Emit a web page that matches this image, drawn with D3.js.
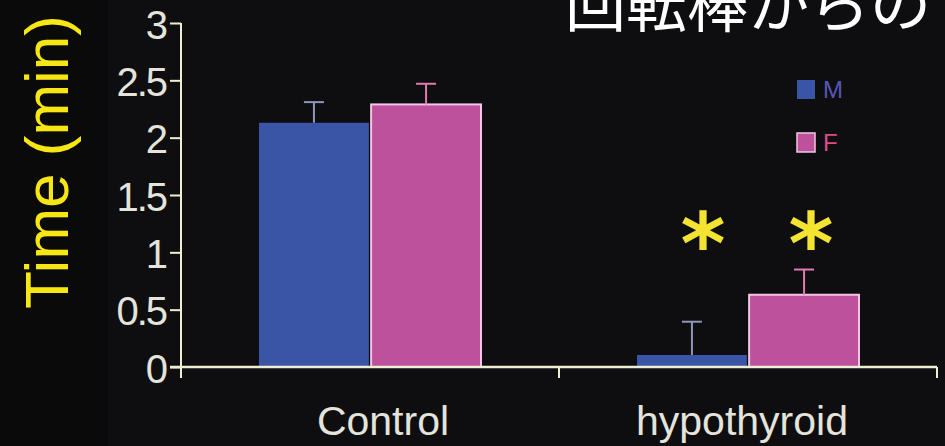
<!DOCTYPE html>
<html>
<head>
<meta charset="utf-8">
<script src="https://cdn.jsdelivr.net/npm/d3@7"></script>
<style>
  html, body { margin: 0; padding: 0; background: #0a0a0a; }
  svg { display: block; }
</style>
</head>
<body>
<svg id="chart" width="945" height="446"></svg>
<script>
// Rotarod fall latency by group and sex
const groups = ["Control", "hypothyroid"];
const sexes = ["M", "F"];
const meanM = [2.13, 0.105];
const meanF = [2.29, 0.63];
const errM = [0.18, 0.29];
const errF = [0.18, 0.22];
const significant = [false, true];
const yTicks = [0, 0.5, 1, 1.5, 2, 2.5, 3];
const titleText = "回転棒からの";
const yLabel = "Time (min)";

const svg = d3.select("#chart");
const W = 945, H = 446;

svg.append("rect").attr("width", W).attr("height", H).attr("fill", "#0a0a0a");
svg.append("rect").attr("x", 108).attr("y", 0).attr("width", W - 108).attr("height", H).attr("fill", "#0e0e10");

const x0 = 181, x1 = 937, yTop = 23, yBase = 367;
const y = d3.scaleLinear().domain([0, 3]).range([yBase, yTop]);
const xBand = d3.scaleBand().domain(groups).range([x0, x1]);
const xSex = d3.scaleBand().domain(sexes).range([0, 222]).paddingInner(0.02);

const fillColor = { M: "#3a55a6", F: "#be519b" };
const strokeColor = { M: "none", F: "#f2c6e4" };
const errColor = { M: "#8f96b8", F: "#e07ab0" };
const axisColor = "#eeeed2";
const textColor = "#e4e4dc";

const rows = [];
groups.forEach((g, i) => {
  rows.push({ g, s: "M", v: meanM[i], e: errM[i], sig: significant[i] });
  rows.push({ g, s: "F", v: meanF[i], e: errF[i], sig: significant[i] });
});
const barX = d => xBand(d.g) + (xBand.bandwidth() - 222) / 2 + xSex(d.s);

// bars
svg.selectAll("rect.bar").data(rows).join("rect")
  .attr("class", "bar")
  .attr("x", barX)
  .attr("y", d => y(d.v))
  .attr("width", xSex.bandwidth())
  .attr("height", d => y(0) - y(d.v))
  .attr("fill", d => fillColor[d.s])
  .attr("stroke", d => strokeColor[d.s])
  .attr("stroke-width", 2);

// error bars (upper half)
const eb = svg.selectAll("g.err").data(rows).join("g").attr("class", "err")
  .attr("stroke", d => errColor[d.s]).attr("stroke-width", 2);
eb.append("line")
  .attr("x1", d => barX(d) + xSex.bandwidth() / 2)
  .attr("x2", d => barX(d) + xSex.bandwidth() / 2)
  .attr("y1", d => y(d.v))
  .attr("y2", d => y(d.v + d.e));
eb.append("line")
  .attr("x1", d => barX(d) + xSex.bandwidth() / 2 - 10)
  .attr("x2", d => barX(d) + xSex.bandwidth() / 2 + 10)
  .attr("y1", d => y(d.v + d.e))
  .attr("y2", d => y(d.v + d.e));

// significance marks
svg.selectAll("text.sig").data(rows.filter(d => d.sig)).join("text")
  .attr("class", "sig")
  .attr("x", d => barX(d) + xSex.bandwidth() / 2 + (d.s === "M" ? 11 : 7))
  .attr("y", 274)
  .attr("text-anchor", "middle")
  .attr("font-family", "DejaVu Sans, sans-serif")
  .attr("font-weight", "bold")
  .attr("font-size", 86)
  .attr("fill", "#f2e430")
  .text("*");

// y axis
const yAxis = d3.axisLeft(y).tickValues(yTicks).tickSize(11).tickPadding(4)
  .tickFormat(d => String(d));
const gy = svg.append("g").attr("transform", `translate(${x0},0)`).call(yAxis);
gy.select(".domain").remove();
gy.selectAll(".tick line").attr("stroke", axisColor).attr("stroke-width", 2);
gy.selectAll(".tick text")
  .attr("fill", textColor)
  .attr("font-family", "Liberation Sans, Arial, sans-serif")
  .attr("font-size", 40)
  .attr("dy", "0.38em")
  .attr("letter-spacing", -2);
svg.append("line").attr("x1", x0).attr("x2", x0).attr("y1", yTop).attr("y2", yBase + 11)
  .attr("stroke", axisColor).attr("stroke-width", 2);

// x axis
svg.append("line").attr("x1", x0 - 11).attr("x2", x1).attr("y1", yBase).attr("y2", yBase)
  .attr("stroke", axisColor).attr("stroke-width", 2.5);
const xTickPos = groups.map(g => xBand(g) + xBand.bandwidth());
svg.selectAll("line.xt").data(xTickPos).join("line")
  .attr("class", "xt")
  .attr("x1", d => d).attr("x2", d => d)
  .attr("y1", yBase).attr("y2", yBase + 11)
  .attr("stroke", axisColor).attr("stroke-width", 2);
svg.selectAll("text.cat").data(groups).join("text")
  .attr("class", "cat")
  .attr("x", (d, i) => xBand(d) + xBand.bandwidth() / 2 + (i === 0 ? 13 : -6))
  .attr("y", 435)
  .attr("text-anchor", "middle")
  .attr("fill", textColor)
  .attr("font-family", "Liberation Sans, Arial, sans-serif")
  .attr("font-size", 41)
  .text(d => d);

// legend
const leg = svg.selectAll("g.leg").data(sexes).join("g").attr("class", "leg")
  .attr("transform", (d, i) => `translate(797,${80 + i * 53})`);
leg.append("rect").attr("width", 18).attr("height", 19)
  .attr("fill", d => fillColor[d])
  .attr("stroke", d => d === "F" ? "#f2c6e4" : "none").attr("stroke-width", 1.5);
leg.append("text").attr("x", 26).attr("y", 18)
  .attr("fill", d => d === "M" ? "#5656b8" : "#dc4c84")
  .attr("font-family", "Liberation Sans, Arial, sans-serif")
  .attr("font-size", 24)
  .text(d => d);

// title and axis label
svg.append("text").attr("x", 565).attr("y", 27)
  .attr("fill", "#ffffff")
  .attr("font-family", "Noto Sans CJK JP, sans-serif")
  .attr("font-size", 61)
  .text(titleText);

svg.append("text")
  .attr("transform", "translate(68,162) rotate(-90)")
  .attr("text-anchor", "middle")
  .attr("fill", "#f5e614")
  .attr("font-family", "Liberation Sans, Arial, sans-serif")
  .attr("font-size", 62)
  .text(yLabel);
</script>
</body>
</html>
